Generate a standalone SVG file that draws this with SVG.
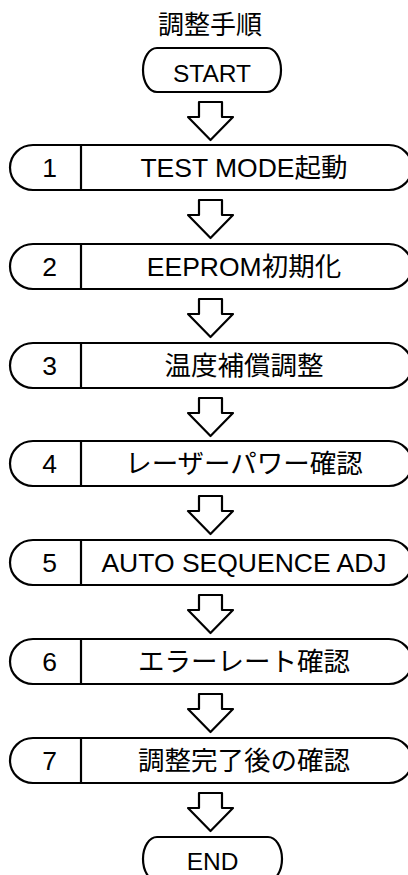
<svg xmlns="http://www.w3.org/2000/svg" xmlns:xlink="http://www.w3.org/1999/xlink" width="408" height="875" viewBox="0 0 408 875">
<style>
.s{fill:#fff;stroke:#000;stroke-width:2.2;stroke-linejoin:round}
.l{stroke:#000;stroke-width:2.2}
.t{font-family:"Liberation Sans","Noto Sans CJK JP",sans-serif;font-size:26.5px;fill:#000;text-anchor:middle}
.te{font-family:"Liberation Sans",sans-serif;font-size:24.5px;fill:#000;text-anchor:middle}
.ti{font-family:"Noto Sans CJK JP",sans-serif;font-size:26px;fill:#000;text-anchor:middle}
</style>
<defs>
<path id="arr" class="s" d="M199 0 H222 V15 H233 L210.5 38 L188 15 H199 Z"/>
</defs>
<rect width="408" height="875" fill="#fff"/>
<text class="ti" x="210" y="34">調整手順</text>
<g id="start">
<path class="s" d="M157 48 H267 A14 22 0 0 1 267 92 H157 A14 22 0 0 1 157 48 Z"/>
<text class="te" x="212" y="81.5">START</text>
</g>
<g id="connectors">
<use xlink:href="#arr" y="102"/>
<use xlink:href="#arr" y="200"/>
<use xlink:href="#arr" y="299"/>
<use xlink:href="#arr" y="398"/>
<use xlink:href="#arr" y="496"/>
<use xlink:href="#arr" y="595"/>
<use xlink:href="#arr" y="694"/>
<use xlink:href="#arr" y="793"/>
</g>
<g id="step1">
<path class="s" d="M33 145 H389 A23 22.5 0 0 1 389 190 H33 A23 22.5 0 0 1 33 145 Z"/>
<line class="l" x1="81" y1="145" x2="81" y2="190"/>
<text class="t" x="49.5" y="177">1</text>
<text class="t" x="244" y="177">TEST MODE起動</text>
</g>
<g id="step2">
<path class="s" d="M33 244 H389 A23 22.5 0 0 1 389 289 H33 A23 22.5 0 0 1 33 244 Z"/>
<line class="l" x1="81" y1="244" x2="81" y2="289"/>
<text class="t" x="49.5" y="276">2</text>
<text class="t" x="244" y="276">EEPROM初期化</text>
</g>
<g id="step3">
<path class="s" d="M33 343 H389 A23 22.5 0 0 1 389 388 H33 A23 22.5 0 0 1 33 343 Z"/>
<line class="l" x1="81" y1="343" x2="81" y2="388"/>
<text class="t" x="49.5" y="375">3</text>
<text class="t" x="244" y="375">温度補償調整</text>
</g>
<g id="step4">
<path class="s" d="M33 441 H389 A23 22.5 0 0 1 389 486 H33 A23 22.5 0 0 1 33 441 Z"/>
<line class="l" x1="81" y1="441" x2="81" y2="486"/>
<text class="t" x="49.5" y="473">4</text>
<text class="t" x="244" y="473">レーザーパワー確認</text>
</g>
<g id="step5">
<path class="s" d="M33 540 H389 A23 22.5 0 0 1 389 585 H33 A23 22.5 0 0 1 33 540 Z"/>
<line class="l" x1="81" y1="540" x2="81" y2="585"/>
<text class="t" x="49.5" y="572">5</text>
<text class="t" x="244" y="572">AUTO SEQUENCE ADJ</text>
</g>
<g id="step6">
<path class="s" d="M33 639 H389 A23 22.5 0 0 1 389 684 H33 A23 22.5 0 0 1 33 639 Z"/>
<line class="l" x1="81" y1="639" x2="81" y2="684"/>
<text class="t" x="49.5" y="671">6</text>
<text class="t" x="244" y="671">エラーレート確認</text>
</g>
<g id="step7">
<path class="s" d="M33 738 H389 A23 22.5 0 0 1 389 783 H33 A23 22.5 0 0 1 33 738 Z"/>
<line class="l" x1="81" y1="738" x2="81" y2="783"/>
<text class="t" x="49.5" y="770">7</text>
<text class="t" x="244" y="770">調整完了後の確認</text>
</g>
<g id="end">
<path class="s" d="M157 837 H268 A14 22 0 0 1 268 881 H157 A14 22 0 0 1 157 837 Z"/>
<text class="te" x="212.5" y="870">END</text>
</g>
</svg>
